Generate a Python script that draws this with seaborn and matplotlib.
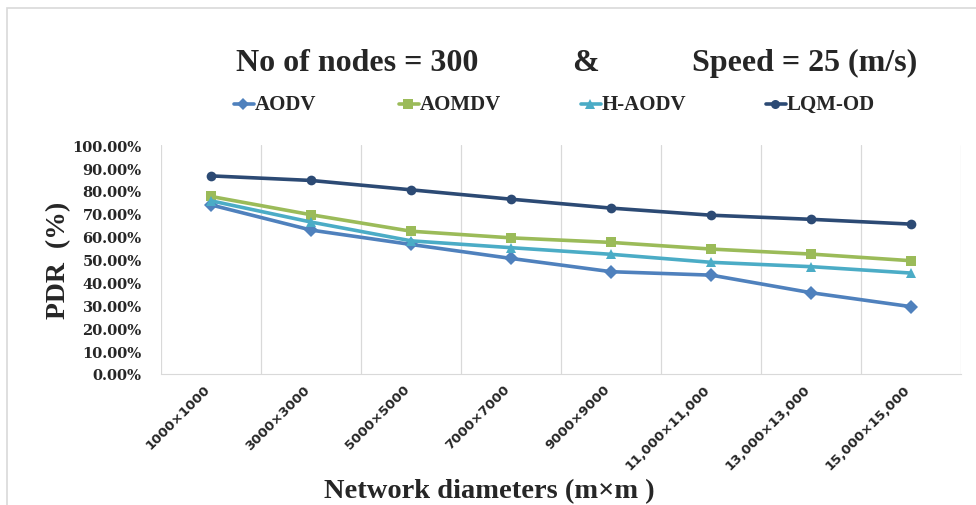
import matplotlib
matplotlib.use("Agg")
import matplotlib.pyplot as plt
import matplotlib.transforms as mtransforms
import pandas as pd
import seaborn as sns

# data
sizes = ["1000×1000", "3000×3000", "5000×5000", "7000×7000", "9000×9000",
         "11,000×11,000", "13,000×13,000", "15,000×15,000"]
aodv = [73.9, 62.9, 56.6, 50.5, 44.7, 43.2, 35.5, 29.4]
aomdv = [77.6, 69.6, 62.4, 59.5, 57.5, 54.6, 52.4, 49.5]
h_aodv = [75.7, 66.4, 58.2, 55.2, 52.3, 48.8, 46.9, 44.1]
lqm_od = [86.6, 84.6, 80.5, 76.4, 72.5, 69.4, 67.6, 65.5]

protocols = ["AODV", "AOMDV", "H-AODV", "LQM-OD"]
colors = ["#4F81BD", "#9BBB59", "#4BACC6", "#2C4A74"]
markers = ["D", "s", "^", "o"]

df = pd.DataFrame({"Network": sizes, "AODV": aodv, "AOMDV": aomdv,
                   "H-AODV": h_aodv, "LQM-OD": lqm_od})
long = df.melt(id_vars="Network", var_name="Protocol", value_name="PDR")

sns.set_style("white")
serif = "Liberation Serif"

fig = plt.figure(figsize=(9.76, 5.06), dpi=100)
ax = fig.add_axes([0.165, 0.259, 0.82, 0.452])

sns.lineplot(data=long, x="Network", y="PDR", hue="Protocol", style="Protocol",
             hue_order=protocols, style_order=protocols,
             palette=colors, markers=markers, dashes=False,
             linewidth=2.6, markersize=7, markeredgewidth=0,
             sort=False, legend=False, ax=ax)

# axis limits / grid (gridlines between categories, like excel)
ax.set_xlim(-0.5, len(sizes) - 0.5)
ax.set_ylim(0, 100)
for _b in range(len(sizes) + 1):
    ax.axvline(_b - 0.5, color="#D9D9D9", lw=0.9, zorder=0)
for _s in ["top", "right", "left"]:
    ax.spines[_s].set_visible(False)
ax.spines["bottom"].set_color("#D9D9D9")

ax.set_yticks(range(0, 101, 10))
ax.set_yticklabels([f"{v:.2f}%" for v in range(0, 101, 10)],
                   fontfamily="DejaVu Serif", fontweight="bold", fontsize=10.5)
ax.set_xticks(range(len(sizes)))
ax.set_xticklabels(sizes, rotation=45, ha="right", rotation_mode="anchor",
                   fontfamily="DejaVu Sans", fontweight="bold", fontsize=9.5)
ax.tick_params(axis="y", length=0, pad=14)
ax.tick_params(axis="x", length=0, pad=6)
# nudge rotated labels left, like excel does
shift = mtransforms.ScaledTranslation(-8 / 100, 0, fig.dpi_scale_trans)
for _lab in ax.get_xticklabels():
    _lab.set_transform(_lab.get_transform() + shift)

ax.set_xlabel("Network diameters (m×m )", fontfamily=serif, fontweight="bold",
              fontsize=20.5)
ax.xaxis.set_label_coords(0.41, -0.455)
ax.set_ylabel("PDR  (%)", fontfamily=serif, fontweight="bold", fontsize=20)
ax.yaxis.set_label_coords(-0.112, 0.5)

# title pieces
title_kw = dict(fontfamily=serif, fontweight="bold", fontsize=23,
                ha="center", va="center")
fig.text(357 / 976, 0.874, "No of nodes = 300", **title_kw)
fig.text(585 / 976, 0.874, "&", **title_kw)
fig.text(805 / 976, 0.874, "Speed = 25 (m/s)", **title_kw)

# legend drawn by hand at the excel positions
leg_x = [243, 408, 590, 775]
for _x, _p, _c, _m in zip(leg_x, protocols, colors, markers):
    fx = _x / 976
    fig.lines.append(plt.Line2D([fx - 9 / 976, fx + 11 / 976], [0.792, 0.792],
                                transform=fig.transFigure, color=_c, lw=2.6))
    fig.lines.append(plt.Line2D([fx], [0.792], transform=fig.transFigure,
                                color=_c, marker=_m, markersize=6.5,
                                markeredgewidth=0))
    fig.text(fx + 12 / 976, 0.792, _p, fontfamily=serif, fontweight="bold",
             fontsize=15, ha="left", va="center")

# outer chart frame
fig.patches.append(plt.Rectangle((7 / 976, -0.05), 1.2, 1 - 9 / 506 + 0.05,
                                 transform=fig.transFigure, fill=False,
                                 edgecolor="#D9D9D9", lw=1.2))

fig.savefig("out.png", dpi=100)
